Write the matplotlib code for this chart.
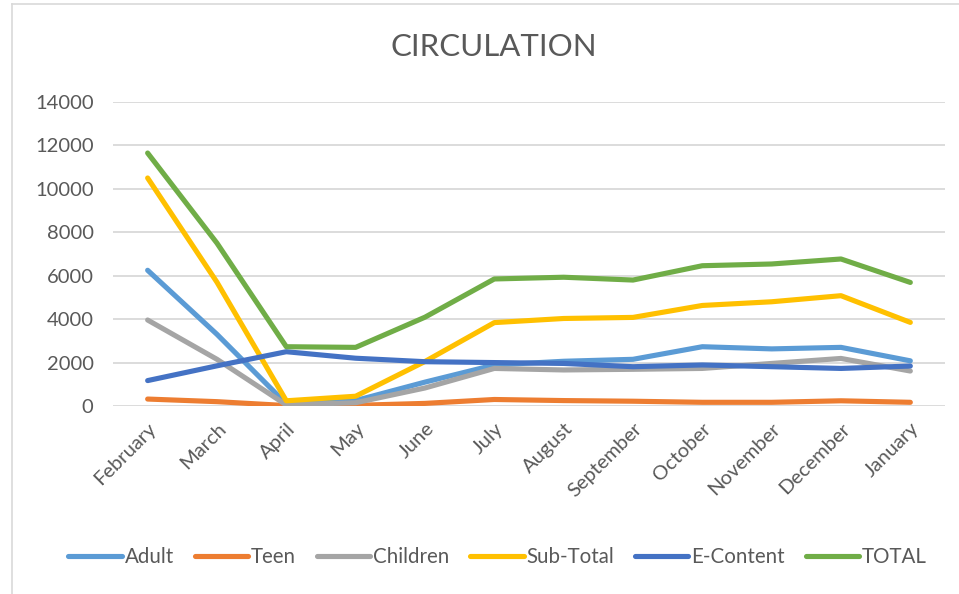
import numpy as np
import matplotlib.pyplot as plt
from matplotlib.lines import Line2D

months = ["February", "March", "April", "May", "June", "July", "August",
          "September", "October", "November", "December", "January"]

adult = [6250, 3300, 100, 250, 1100, 1890, 2060, 2150, 2730, 2630, 2700, 2080]
teen = [320, 200, 20, 30, 120, 300, 250, 220, 170, 170, 240, 170]
children = [3960, 2150, 50, 150, 830, 1730, 1660, 1690, 1730, 1960, 2190, 1610]
sub_total = [10500, 5700, 240, 450, 2050, 3840, 4030, 4080, 4630, 4800, 5080, 3850]
e_content = [1170, 1850, 2500, 2200, 2040, 2000, 1960, 1810, 1890, 1810, 1730, 1840]
total = [11650, 7500, 2730, 2700, 4090, 5850, 5930, 5800, 6460, 6540, 6770, 5690]

series = [("Adult", adult, "#5B9BD5"),
          ("Teen", teen, "#ED7D31"),
          ("Children", children, "#A5A5A5"),
          ("Sub-Total", sub_total, "#FFC000"),
          ("E-Content", e_content, "#4472C4"),
          ("TOTAL", total, "#70AD47")]

plt.rcParams['font.family'] = ['Lato', 'DejaVu Sans']
text_col = "#595959"
lw = 3.7

fig = plt.figure(figsize=(9.59, 5.94), dpi=100)
ax = fig.add_axes([0.1178, 0.3165, 0.8676, 0.5118])

x = np.arange(len(months))
for name, vals, col in series:
    ax.plot(x, vals, color=col, lw=lw, solid_capstyle="round",
            solid_joinstyle="round", label=name)

ax.set_xlim(-0.5, len(months) - 0.5)
ax.set_ylim(0, 14000)
ax.set_yticks(np.arange(0, 14001, 2000))
ax.set_yticklabels([str(v) for v in range(0, 14001, 2000)], fontsize=14.5, color=text_col)
ax.set_xticks(x)
ax.set_xticklabels(months, rotation=45, ha="right", rotation_mode="anchor",
                   fontsize=14.5, color=text_col)
ax.tick_params(axis="y", length=0, pad=14)
ax.tick_params(axis="x", length=0, pad=10)
ax.grid(axis="y", color="#D9D9D9", lw=1.3)
ax.set_axisbelow(True)
for s in ax.spines.values():
    s.set_visible(False)

fig.text(0.515, 0.921, "CIRCULATION", ha="center", va="center",
         fontsize=22.5, color=text_col)

handles = [Line2D([0], [0], color=c, lw=lw, solid_capstyle="round") for _, _, c in series]
fig.legend(handles, [n for n, _, _ in series], loc="center", bbox_to_anchor=(0.519, 0.062),
           ncol=6, frameon=False, fontsize=14.8, handlelength=2.6, handletextpad=0.15,
           columnspacing=1.0, labelcolor=text_col)

# chart frame
fig.add_artist(Line2D([12 / 959, 12 / 959], [0, 1 - 4 / 594], color="#D9D9D9", lw=1.2))
fig.add_artist(Line2D([12 / 959, 1], [1 - 4 / 594, 1 - 4 / 594], color="#D9D9D9", lw=1.2))

fig.savefig("out.png", dpi=100)
